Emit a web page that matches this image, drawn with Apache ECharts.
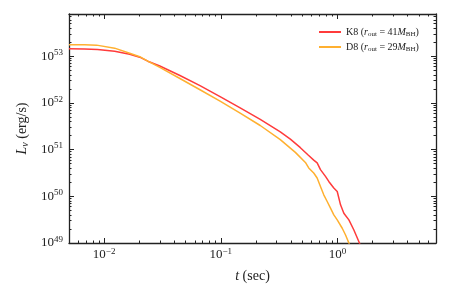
<!DOCTYPE html>
<html><head><meta charset="utf-8">
<script src="https://cdn.jsdelivr.net/npm/echarts@6/dist/echarts.min.js"></script>
<style>html,body{margin:0;padding:0;background:#fff}#c{width:458px;height:286px}</style>
</head><body><div id="c"></div>
<script>
// K8 (r_out = 41 M_BH)
const k8T = [0.005, 0.0068, 0.00879, 0.01231, 0.01657, 0.0202, 0.02368, 0.03003, 0.04464, 0.06635, 0.09863, 0.1466, 0.2179, 0.3238, 0.3948, 0.4813, 0.5641, 0.6265, 0.6702, 0.7155, 0.7899, 0.8433, 0.9312, 0.9961, 1.0634, 1.1353, 1.2537, 1.3838, 1.5283, 1.58];
const k8L = [1.443e53, 1.429e53, 1.393e53, 1.281e53, 1.104e53, 9.52e52, 7.806e52, 6.15e52, 3.865e52, 2.333e52, 1.366e52, 7.85e51, 4.42e51, 2.39e51, 1.674e51, 1.099e51, 7.54e50, 5.94e50, 5.18e50, 3.72e50, 2.666e50, 2.081e50, 1.501e50, 1.268e50, 6.57e49, 4.35e49, 3.12e49, 1.90e49, 1.067e49, 8.6e48];
// D8 (r_out = 29 M_BH)
const d8T = [0.005, 0.0068, 0.00862, 0.01231, 0.01657, 0.0202, 0.02368, 0.03003, 0.04464, 0.06635, 0.09863, 0.1466, 0.2179, 0.3238, 0.4359, 0.5315, 0.5675, 0.6265, 0.6702, 0.7155, 0.7638, 0.8170, 0.8722, 0.9312, 0.9961, 1.0998, 1.1741, 1.2537, 1.296];
const d8L = [1.750e53, 1.750e53, 1.724e53, 1.486e53, 1.160e53, 9.75e52, 7.806e52, 5.74e52, 3.332e52, 1.913e52, 1.088e52, 6.065e51, 3.28e51, 1.64e51, 8.71e50, 5.31e50, 4.04e50, 3.155e50, 2.462e50, 1.625e50, 1.077e50, 7.73e49, 5.57e49, 4.00e49, 3.12e49, 2.07e49, 1.486e49, 1.0e49, 8.2e48];

const xMajorTicks = [0.01, 0.1, 1];
const xMinorTicks = [0.005,0.006,0.007,0.008,0.009, 0.02,0.03,0.04,0.05,0.06,0.07,0.08,0.09, 0.2,0.3,0.4,0.5,0.6,0.7,0.8,0.9, 2,3,4,5,6,7];
const yMajorTicks = [1e49, 1e50, 1e51, 1e52, 1e53];
const yMinorTicks = [];
[49,50,51,52,53].forEach(e => { for (let m = 2; m <= 9; m++) yMinorTicks.push(m * Math.pow(10, e)); });
const xRange = [0.005, 7];
const yRange = [1e49, 8e53];

const FONT = 'Liberation Serif';
const INK = '#222';
const RED = '#ff3b3b';
const ORANGE = '#ffb030';

function expLabel(v) {
  const e = Math.round(Math.log10(v));
  return '{b|10}{s|' + String(e).replace('-', '\u2212') + '}';
}
const labelRich = {
  b: { fontFamily: FONT, fontSize: 13, lineHeight: 16, color: INK },
  s: { fontFamily: FONT, fontSize: 9, lineHeight: 8, verticalAlign: 'top', color: INK }
};

function xAx(pos, major, showLine) {
  return {
    type: 'log', logBase: 10, min: xRange[0], max: xRange[1], position: pos,
    axisLine: { show: showLine, onZero: false, lineStyle: { color: INK, width: 1.3 } },
    axisTick: { show: true, inside: true, length: major ? 5 : 2.5, customValues: major ? xMajorTicks : xMinorTicks, lineStyle: { color: INK, width: 1 } },
    axisLabel: { show: pos === 'bottom' && major, customValues: xMajorTicks, formatter: expLabel, rich: labelRich, margin: 4 },
    minorTick: { show: false }, splitLine: { show: false }
  };
}
function yAx(pos, major, showLine) {
  return {
    type: 'log', logBase: 10, min: yRange[0], max: yRange[1], position: pos,
    axisLine: { show: showLine, onZero: false, lineStyle: { color: INK, width: 1.3 } },
    axisTick: { show: true, inside: true, length: major ? 5 : 2.5, customValues: major ? yMajorTicks : yMinorTicks, lineStyle: { color: INK, width: 1 } },
    axisLabel: { show: pos === 'left' && major, customValues: yMajorTicks, formatter: expLabel, rich: labelRich, margin: 6 },
    minorTick: { show: false }, splitLine: { show: false }
  };
}

const xAxes = [xAx('bottom', true, true), xAx('bottom', false, false), xAx('top', true, true), xAx('top', false, false)];
xAxes[0].name = '{i|t} (sec)';
xAxes[0].nameLocation = 'middle';
xAxes[0].nameGap = 26;
xAxes[0].nameTextStyle = { fontFamily: FONT, fontSize: 14, color: INK, rich: { i: { fontFamily: FONT, fontSize: 14, fontStyle: 'italic', color: INK } } };
const yAxes = [yAx('left', true, true), yAx('left', false, false), yAx('right', true, true), yAx('right', false, false)];
yAxes[0].name = '{i|L}{sub|\u03bd} (erg/s)';
yAxes[0].nameLocation = 'middle';
yAxes[0].nameGap = 37;
yAxes[0].nameTextStyle = { fontFamily: FONT, fontSize: 14, color: INK, rich: {
  i: { fontFamily: FONT, fontSize: 14, fontStyle: 'italic', color: INK, lineHeight: 16 },
  sub: { fontFamily: FONT, fontSize: 10, fontStyle: 'italic', color: INK, verticalAlign: 'bottom', lineHeight: 10 } } };

const legendLabels = {
  K8: 'K8 ({i|r}{sub|out} = 41{i|M}{sub|BH})',
  D8: 'D8 ({i|r}{sub|out} = 29{i|M}{sub|BH})'
};

const chart = echarts.init(document.getElementById('c'), null, { renderer: 'canvas' });
chart.setOption({
  animation: false,
  backgroundColor: '#fff',
  grid: { left: 69, right: 22, top: 14, bottom: 43, containLabel: false, outerBoundsMode: 'none' },
  xAxis: xAxes,
  yAxis: yAxes,
  legend: {
    orient: 'vertical', left: 314, top: 21, itemWidth: 22, itemHeight: 10, itemGap: 3,
    align: 'left', icon: 'path://M0,0 L22,0 L22,2 L0,2 Z',
    data: ['K8', 'D8'],
    formatter: n => legendLabels[n],
    textStyle: { fontFamily: FONT, fontSize: 10, color: INK, lineHeight: 12, rich: {
      i: { fontFamily: FONT, fontSize: 10, fontStyle: 'italic', color: INK, lineHeight: 12 },
      sub: { fontFamily: FONT, fontSize: 7, color: INK, verticalAlign: 'bottom', lineHeight: 8 } } }
  },
  series: [
    { name: 'K8', type: 'line', xAxisIndex: 0, yAxisIndex: 0, symbol: 'none', smooth: false,
      lineStyle: { color: RED, width: 1.5 }, itemStyle: { color: RED },
      data: k8T.map((t, i) => [t, k8L[i]]) },
    { name: 'D8', type: 'line', xAxisIndex: 0, yAxisIndex: 0, symbol: 'none', smooth: false,
      lineStyle: { color: ORANGE, width: 1.5 }, itemStyle: { color: ORANGE },
      data: d8T.map((t, i) => [t, d8L[i]]) }
  ]
});
</script></body></html>
